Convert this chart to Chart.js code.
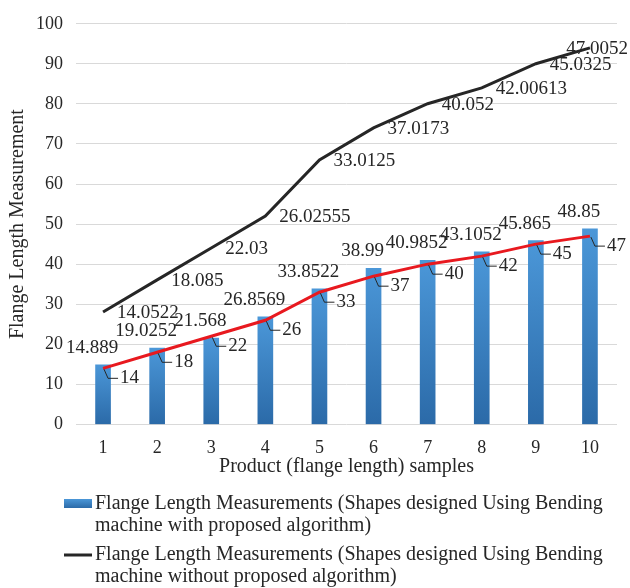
<!DOCTYPE html>
<html>
<head>
<meta charset="utf-8">
<script src="https://cdn.jsdelivr.net/npm/chart.js@4.4.1/dist/chart.umd.min.js"></script>
<style>
  html, body { margin: 0; padding: 0; background: #fff; }
  #wrap { width: 630px; height: 588px; position: relative; }
</style>
</head>
<body>
<div id="wrap"><canvas id="flangeChart"></canvas></div>
<script>
  // data
  const samples = ['1', '2', '3', '4', '5', '6', '7', '8', '9', '10'];
  const withAlgorithm = [14.889, 19.0252, 21.568, 26.8569, 33.8522, 38.99, 40.9852, 43.1052, 45.865, 48.85];
  const redSeries = [14, 18, 22, 26, 33, 37, 40, 42, 45, 47];
  const withoutAlgorithm = [14.0522, 18.085, 22.03, 26.02555, 33.0125, 37.0173, 40.052, 42.00613, 45.0325, 47.0052];
  const yTicks = [0, 10, 20, 30, 40, 50, 60, 70, 80, 90, 100];
  const legendNames = [
    ['Flange Length Measurements (Shapes designed Using Bending', 'machine with proposed algorithm)'],
    ['Flange Length Measurements (Shapes designed Using Bending', 'machine without proposed algorithm)']
  ];

  const FONT = '"Liberation Serif", "Times New Roman", serif';
  const TXT = '#262626';
  Chart.defaults.font.family = FONT;
  Chart.defaults.font.size = 18;
  Chart.defaults.color = TXT;

  function barFill(c) {
    const chart = c.chart;
    if (!chart.chartArea || c.type !== 'data') return '#3d85c6';
    const y = chart.scales.y;
    const top = y.getPixelForValue(c.raw);
    const bottom = y.getPixelForValue(0);
    const g = chart.ctx.createLinearGradient(0, top, 0, bottom);
    g.addColorStop(0, '#4b97d8');
    g.addColorStop(1, '#2b6aa8');
    return g;
  }

  // value labels, drawn by hand since only chart.js is available
  const valueLabels = {
    id: 'valueLabels',
    afterDatasetsDraw(chart) {
      const ctx = chart.ctx;
      ctx.save();
      ctx.font = '19px ' + FONT;
      ctx.fillStyle = TXT;
      ctx.strokeStyle = TXT;
      ctx.lineWidth = 1;
      ctx.textBaseline = 'middle';
      chart.data.datasets.forEach((ds, i) => {
        const meta = chart.getDatasetMeta(i);
        meta.data.forEach((el, j) => {
          const txt = String(ds.data[j]);
          const w = ctx.measureText(txt).width;
          let x, y;
          if (ds.labelMode === 'bar') {
            x = el.x - 11 - w / 2;
            y = el.y - 17;
          } else if (ds.labelMode === 'below') {
            x = el.x + 17;
            y = el.y + 10;
            ctx.beginPath();
            ctx.moveTo(el.x + 1, el.y + 1);
            ctx.lineTo(el.x + 5, y);
            ctx.lineTo(x - 2, y);
            ctx.stroke();
          } else {
            x = el.x + 14;
            y = el.y + 1;
          }
          if (x + w > chart.width - 2) x = chart.width - 2 - w;
          ctx.textAlign = 'left';
          ctx.fillText(txt, x, y);
        });
      });
      ctx.restore();
    }
  };

  const bottomLegend = {
    id: 'bottomLegend',
    afterDraw(chart) {
      const ctx = chart.ctx;
      const top = chart.height - 84;
      ctx.save();
      ctx.font = '20px ' + FONT;
      ctx.fillStyle = TXT;
      ctx.textBaseline = 'middle';
      ctx.textAlign = 'left';
      // item 1: bar swatch
      const g = ctx.createLinearGradient(0, top - 5, 0, top + 4);
      g.addColorStop(0, '#4b97d8');
      g.addColorStop(1, '#2b6aa8');
      ctx.fillStyle = g;
      ctx.fillRect(64, top - 5, 28, 9);
      ctx.fillStyle = TXT;
      ctx.fillText(legendNames[0][0], 95, top);
      ctx.fillText(legendNames[0][1], 95, top + 22);
      // item 2: line swatch
      const top2 = top + 51;
      ctx.strokeStyle = '#262626';
      ctx.lineWidth = 3;
      ctx.beginPath();
      ctx.moveTo(64, top2);
      ctx.lineTo(92, top2);
      ctx.stroke();
      ctx.fillText(legendNames[1][0], 95, top2);
      ctx.fillText(legendNames[1][1], 95, top2 + 22);
      ctx.restore();
    }
  };

  const ctx = document.getElementById('flangeChart');
  const flangeChart = new Chart(ctx, {
    type: 'bar',
    data: {
      labels: samples,
      datasets: [{
        type: 'line',
        label: 'Flange Length',
        data: redSeries,
        stack: 'lines',
        borderColor: '#e8191f',
        borderWidth: 3,
        pointRadius: 0,
        fill: false,
        labelMode: 'below'
      }, {
        type: 'line',
        label: legendNames[1].join(' '),
        data: withoutAlgorithm,
        stack: 'lines',
        borderColor: '#262626',
        borderWidth: 3,
        pointRadius: 0,
        fill: false,
        labelMode: 'right'
      }, {
        type: 'bar',
        label: legendNames[0].join(' '),
        data: withAlgorithm,
        stack: 'bars',
        backgroundColor: barFill,
        barThickness: 15,
        labelMode: 'bar'
      }]
    },
    options: {
      responsive: true,
      maintainAspectRatio: false,
      animation: false,
      layout: { padding: { left: 6, right: 13, top: 1, bottom: 111 } },
      plugins: {
        legend: { display: false },
        tooltip: { enabled: false }
      },
      scales: {
        x: {
          grid: { display: false },
          border: { display: false },
          ticks: { padding: 5 },
          title: {
            display: true, text: 'Product (flange length) samples',
            font: { size: 20, lineHeight: 1 }, padding: { top: -7, bottom: 0 }
          }
        },
        y: {
          stacked: true,
          min: 0,
          max: 100,
          afterBuildTicks: (axis) => { axis.ticks = yTicks.map(v => ({ value: v })); },
          grid: { color: '#d9d9d9', drawTicks: false },
          border: { display: false },
          ticks: { padding: 13 },
          title: {
            display: true, text: 'Flange Length Measurement',
            font: { size: 20, lineHeight: 1 }, padding: { top: 2, bottom: -5 }
          }
        }
      }
    },
    plugins: [valueLabels, bottomLegend]
  });
</script>
</body>
</html>
